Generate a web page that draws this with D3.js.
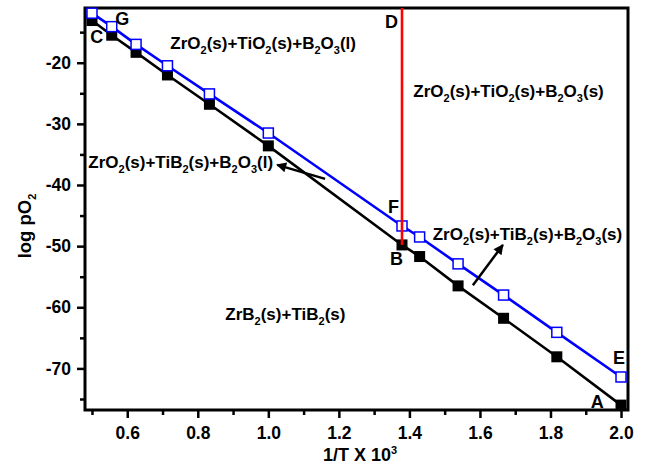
<!DOCTYPE html>
<meta charset="utf-8">
<head>
  <title>log pO2 vs 1/T</title>
</head>
<style>
    body { margin: 0; background: #fff; }
    svg text { font-family: "Liberation Sans", Arial, sans-serif; font-weight: bold; fill: #000; }
    .frame { fill: none; stroke: #000; stroke-width: 3px; }
    .tick line { stroke: #000; stroke-width: 2.5px; }
    .domain { display: none; }
</style>
<body>
<svg id="chart" width="646" height="471"></svg>
<script src="https://cdn.jsdelivr.net/npm/d3@7"></script>
<script>
    // 1/T x 10^3 (T = 2000 ... 500 K)
    var invT = [0.5, 0.556, 0.625, 0.714, 0.833, 1.0, 1.379, 1.429, 1.538, 1.667, 1.818, 2.0];
    // lower boundary (black, filled squares) C -> B -> A
    var lowerPO2 = [-13.1, -15.5, -18.3, -22.0, -26.8, -33.6, -49.8, -51.7, -56.5, -61.8, -68.1, -76.0];
    // upper boundary (blue, open squares) G -> F -> E
    var upperPO2 = [-11.9, -14.1, -17.0, -20.5, -25.1, -31.5, -46.7, -48.5, -52.9, -58.0, -64.1, -71.4];
    // melting line of B2O3 (D -> B)
    var meltX = 1.379, meltBottom = -49.8;

    var xTicks = [0.6, 0.8, 1.0, 1.2, 1.4, 1.6, 1.8, 2.0];
    var xMinor = [0.5, 0.7, 0.9, 1.1, 1.3, 1.5, 1.7, 1.9];
    var yTicks = [-20, -30, -40, -50, -60, -70];
    var yMinor = [-15, -25, -35, -45, -55, -65, -75];

    // region labels: [x, y, parts], parts = [text, "sub"|""]
    var regions = [
        [0.722, -17.8, [["ZrO",""],["2","sub"],["(s)+TiO",""],["2","sub"],["(s)+B",""],["2","sub"],["O",""],["3","sub"],["(l)",""]]],
        [1.411, -25.6, [["ZrO",""],["2","sub"],["(s)+TiO",""],["2","sub"],["(s)+B",""],["2","sub"],["O",""],["3","sub"],["(s)",""]]],
        [0.4895, -37.2, [["ZrO",""],["2","sub"],["(s)+TiB",""],["2","sub"],["(s)+B",""],["2","sub"],["O",""],["3","sub"],["(l)",""]]],
        [1.466, -49.0, [["ZrO",""],["2","sub"],["(s)+TiB",""],["2","sub"],["(s)+B",""],["2","sub"],["O",""],["3","sub"],["(s)",""]]],
        [0.878, -62.1, [["ZrB",""],["2","sub"],["(s)+TiB",""],["2","sub"],["(s)",""]]]
    ];
    var points = [
        ["C", 0.495, -16.8], ["G", 0.566, -13.8], ["D", 1.331, -14.3], ["F", 1.339, -44.6],
        ["B", 1.345, -53.1], ["E", 1.977, -69.2], ["A", 1.914, -76.4]
    ];
    // arrows: [x0, y0, x1, y1] tail -> tip
    var arrows = [
        [1.161, -39.0, 1.025, -36.7],
        [1.580, -56.4, 1.665, -49.8]
    ];

    var svg = d3.select("#chart");
    var mLeft = 85, mRight = 628, mTop = 8, mBottom = 410;

    var x = d3.scaleLinear().domain([0.4802, 2.0198]).range([mLeft, mRight]);
    var y = d3.scaleLinear().domain([-76.8, -11.05]).range([mBottom, mTop]);

    var defs = svg.append("defs");
    defs.append("marker")
        .attr("id", "head")
        .attr("viewBox", "0 0 10 10")
        .attr("refX", 9).attr("refY", 5)
        .attr("markerWidth", 6).attr("markerHeight", 4)
        .attr("markerUnits", "strokeWidth")
        .attr("orient", "auto")
        .append("path")
        .attr("d", "M0,0L10,5L0,10z")
        .attr("fill", "#000");
    defs.append("clipPath").attr("id", "clip")
        .append("rect").attr("x", mLeft).attr("y", mTop)
        .attr("width", mRight - mLeft).attr("height", mBottom - mTop);

    // axes
    var xAxis = svg.append("g").attr("transform", "translate(0," + mBottom + ")")
        .call(d3.axisBottom(x).tickValues(xTicks).tickSize(8).tickPadding(6).tickFormat(d3.format(".1f")));
    xAxis.selectAll("text").style("font-size", "17.5px").attr("dy", "0.85em");
    svg.append("g").attr("transform", "translate(0," + mBottom + ")")
        .call(d3.axisBottom(x).tickValues(xMinor).tickSize(5).tickFormat(""));

    var yAxis = svg.append("g").attr("transform", "translate(" + mLeft + ",0)")
        .call(d3.axisLeft(y).tickValues(yTicks).tickSize(8).tickPadding(6)
            .tickFormat(function(d) { return String(d); }));
    yAxis.selectAll("text").style("font-size", "17.5px");
    svg.append("g").attr("transform", "translate(" + mLeft + ",0)")
        .call(d3.axisLeft(y).tickValues(yMinor).tickSize(5).tickFormat(""));

    svg.append("rect").attr("class", "frame")
        .attr("x", mLeft).attr("y", mTop)
        .attr("width", mRight - mLeft).attr("height", mBottom - mTop);

    // axis titles
    var xt = svg.append("text").attr("x", 360).attr("y", 461)
        .attr("text-anchor", "middle").style("font-size", "18px");
    xt.append("tspan").text("1/T X 10");
    xt.append("tspan").attr("dy", -7).style("font-size", "11px").text("3");

    var yt = svg.append("text").attr("transform", "translate(31,226) rotate(-90)")
        .attr("text-anchor", "middle").style("font-size", "18.5px");
    yt.append("tspan").text("log pO");
    yt.append("tspan").attr("dy", 5).style("font-size", "11px").text("2");

    // series
    var plot = svg.append("g").attr("clip-path", "url(#clip)");
    var line = d3.line().x(function(d) { return x(d[0]); }).y(function(d) { return y(d[1]); });
    var lower = d3.zip(invT, lowerPO2), upper = d3.zip(invT, upperPO2);

    plot.append("path").datum(lower).attr("d", line)
        .attr("fill", "none").attr("stroke", "#000").attr("stroke-width", 2.6);
    plot.append("path").datum(upper).attr("d", line)
        .attr("fill", "none").attr("stroke", "#0000ff").attr("stroke-width", 2.6);

    var s = 11;
    svg.selectAll("rect.lo").data(lower).enter().append("rect")
        .attr("class", "lo")
        .attr("x", function(d) { return x(d[0]) - s / 2; })
        .attr("y", function(d) { return y(d[1]) - s / 2; })
        .attr("width", s).attr("height", s)
        .attr("fill", "#000");
    svg.selectAll("rect.up").data(upper).enter().append("rect")
        .attr("class", "up")
        .attr("x", function(d) { return x(d[0]) - (s - 1) / 2; })
        .attr("y", function(d) { return y(d[1]) - (s - 1) / 2; })
        .attr("width", s - 1).attr("height", s - 1)
        .attr("fill", "#fff").attr("stroke", "#0000ff").attr("stroke-width", 1.5);

    svg.append("line")
        .attr("x1", x(meltX)).attr("x2", x(meltX))
        .attr("y1", y.range()[1]).attr("y2", y(meltBottom))
        .attr("stroke", "#ff0000").attr("stroke-width", 2.6);

    // region labels
    regions.forEach(function(r) {
        var t = svg.append("text").attr("x", x(r[0])).attr("y", y(r[1])).style("font-size", "17px");
        var shift = 0;
        r[2].forEach(function(p) {
            var dy = p[1] === "sub" ? 5 - shift : -shift;
            shift = p[1] === "sub" ? 5 : 0;
            t.append("tspan").attr("dy", dy)
                .style("font-size", p[1] === "sub" ? "11px" : "17px")
                .text(p[0]);
        });
    });

    svg.selectAll("text.pt").data(points).enter().append("text")
        .attr("class", "pt")
        .attr("x", function(d) { return x(d[1]); })
        .attr("y", function(d) { return y(d[2]); })
        .style("font-size", "18px")
        .text(function(d) { return d[0]; });

    svg.selectAll("line.arrow").data(arrows).enter().append("line")
        .attr("class", "arrow")
        .attr("x1", function(d) { return x(d[0]); })
        .attr("y1", function(d) { return y(d[1]); })
        .attr("x2", function(d) { return x(d[2]); })
        .attr("y2", function(d) { return y(d[3]); })
        .attr("stroke", "#000").attr("stroke-width", 2.5)
        .attr("marker-end", "url(#head)");
</script>
</body>
